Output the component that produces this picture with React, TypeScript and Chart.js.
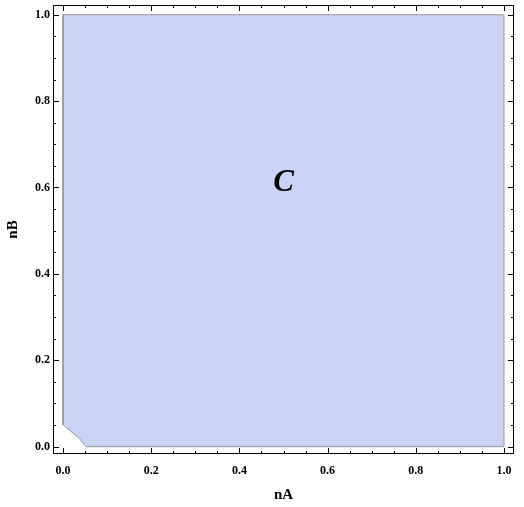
import React, { useEffect, useRef } from "react";
import { Chart, registerables } from "chart.js";

Chart.register(...registerables);

// Region "C" boundary (nA, nB)
const regionX = [0, 0.038, 0.052, 1, 1, 0, 0];
const regionY = [0.051, 0.018, 0, 0, 1, 1, 0.051];

const majorTicks = [0, 0.2, 0.4, 0.6, 0.8, 1.0];
const minorTicks = [0.05, 0.1, 0.15, 0.25, 0.3, 0.35, 0.45, 0.5, 0.55, 0.65, 0.7, 0.75, 0.85, 0.9, 0.95];

const xRange = [-0.0227, 1.0227];
const yRange = [-0.017, 1.0225];

const regionLabel = "C";
const regionLabelPos = [0.5, 0.61];

const xTitle = "nA";
const yTitle = "nB";

const SERIF = "'Liberation Serif', 'Times New Roman', 'DejaVu Serif', serif";

export default function App() {
  const ref = useRef<HTMLCanvasElement | null>(null);

  useEffect(() => {
    if (!ref.current) return;
    const framePlugin = {
      id: "framePlugin",
      afterDatasetsDraw(chart: any) {
        const ctx = chart.ctx;
        const xs = chart.scales.x;
        const ys = chart.scales.y;
        const { left, right, top, bottom } = chart.chartArea;
        ctx.save();
        // region label
        ctx.fillStyle = "#000";
        ctx.font = `italic bold 31px ${SERIF}`;
        ctx.textAlign = "center";
        ctx.textBaseline = "middle";
        ctx.fillText(regionLabel, xs.getPixelForValue(regionLabelPos[0]), ys.getPixelForValue(regionLabelPos[1]));
        // frame
        ctx.strokeStyle = "#000";
        ctx.lineWidth = 1;
        ctx.strokeRect(Math.round(left) + 0.5, Math.round(top) + 0.5, Math.round(right - left) - 1, Math.round(bottom - top) - 1);
        const drawTicks = (vals: number[], len: number) => {
          ctx.beginPath();
          for (const v of vals) {
            const px = Math.round(xs.getPixelForValue(v)) + 0.5;
            ctx.moveTo(px, Math.round(bottom));
            ctx.lineTo(px, Math.round(bottom) - len);
            ctx.moveTo(px, Math.round(top));
            ctx.lineTo(px, Math.round(top) + len);
            const py = Math.round(ys.getPixelForValue(v)) + 0.5;
            ctx.moveTo(Math.round(left), py);
            ctx.lineTo(Math.round(left) + len, py);
            ctx.moveTo(Math.round(right), py);
            ctx.lineTo(Math.round(right) - len, py);
          }
          ctx.stroke();
        };
        drawTicks(majorTicks, 6);
        drawTicks(minorTicks, 3);
        ctx.restore();
      },
    };

    const chart = new Chart(ref.current, {
      type: "scatter",
      data: {
        datasets: [
          {
            data: regionX.map((x, i) => ({ x, y: regionY[i] })),
            showLine: true,
            fill: "shape",
            backgroundColor: "rgb(202,210,245)",
            borderColor: "rgb(150,150,150)",
            borderWidth: 1,
            pointRadius: 0,
            tension: 0,
          } as any,
        ],
      },
      options: {
        animation: false,
        responsive: false,
        maintainAspectRatio: false,
        layout: { padding: { left: 0, top: 5, right: 10, bottom: 0 } },
        plugins: { legend: { display: false }, tooltip: { enabled: false } },
        scales: {
          x: {
            type: "linear",
            min: xRange[0],
            max: xRange[1],
            afterBuildTicks: (s: any) => {
              s.ticks = majorTicks.map((v) => ({ value: v }));
            },
            afterFit: (s: any) => {
              s.height = 53;
              s.paddingLeft = 0;
              s.paddingRight = 0;
            },
            grid: { display: false, drawTicks: false },
            border: { display: false },
            ticks: {
              padding: 10,
              color: "#000",
              font: { family: SERIF, size: 12, weight: "bold" },
              callback: (v: any) => Number(v).toFixed(1),
              maxRotation: 0,
            },
            title: {
              display: true,
              text: xTitle,
              color: "#000",
              font: { family: SERIF, size: 15, weight: "bold" },
              padding: { top: 0, bottom: 3 },
            },
          },
          y: {
            type: "linear",
            min: yRange[0],
            max: yRange[1],
            afterBuildTicks: (s: any) => {
              s.ticks = majorTicks.map((v) => ({ value: v }));
            },
            afterFit: (s: any) => {
              s.width = 53;
              s.paddingTop = 0;
              s.paddingBottom = 0;
            },
            grid: { display: false, drawTicks: false },
            border: { display: false },
            ticks: {
              padding: 3,
              color: "#000",
              font: { family: SERIF, size: 12, weight: "bold" },
              callback: (v: any) => Number(v).toFixed(1),
            },
            title: {
              display: true,
              text: yTitle,
              color: "#000",
              font: { family: SERIF, size: 15, weight: "bold" },
              padding: { top: 4, bottom: 0 },
            },
          },
        },
      },
      plugins: [framePlugin],
    });
    return () => chart.destroy();
  }, []);

  return (
    <div style={{ position: "fixed", left: 0, top: 0, width: 524, height: 507, background: "#fff" }}>
      <canvas ref={ref} width={524} height={507} style={{ width: 524, height: 507 }} />
    </div>
  );
}
